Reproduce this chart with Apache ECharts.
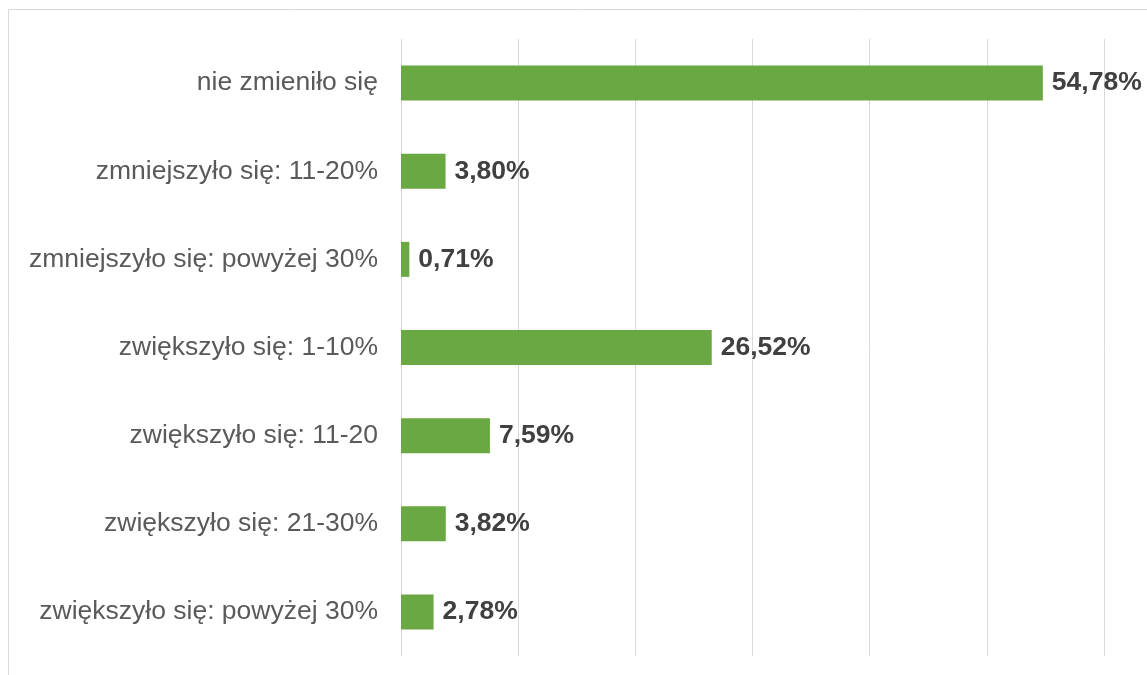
<!DOCTYPE html>
<html><head><meta charset="utf-8">
<script src="https://cdn.jsdelivr.net/npm/echarts@6/dist/echarts.min.js"></script>
<style>html,body{margin:0;padding:0;background:#fff}#c{width:1147px;height:675px}</style>
</head><body><div id="c"></div>
<script>
const categories = ["nie zmieniło się","zmniejszyło się: 11-20%","zmniejszyło się: powyżej 30%","zwiększyło się: 1-10%","zwiększyło się: 11-20","zwiększyło się: 21-30%","zwiększyło się: powyżej 30%"];
const values = [54.78, 3.80, 0.71, 26.52, 7.59, 3.82, 2.78];
const chart = echarts.init(document.getElementById('c'));
chart.setOption({
  backgroundColor:'#fff',
  animation:false,
  graphic:[{type:'rect',shape:{x:8.5,y:9.5,width:1200,height:700},style:{fill:'none',stroke:'#d9d9d9',lineWidth:1}}],
  grid:{left:401,right:43,top:39,bottom:19,containLabel:false},
  xAxis:{type:'value',min:0,max:60,interval:10,axisLabel:{show:false},axisLine:{show:false},axisTick:{show:false},
    splitLine:{show:true,lineStyle:{color:'#d9d9d9',width:1}}},
  yAxis:{type:'category',data:categories,inverse:true,axisLine:{show:false},axisTick:{show:false},
    axisLabel:{margin:23,color:'#5a5a5a',fontSize:26.5,fontFamily:'Liberation Sans, Arial, sans-serif'}},
  series:[{type:'bar',data:values,barWidth:35,itemStyle:{color:'#6aa843'},
    label:{show:true,position:'right',distance:9,color:'#404040',fontSize:26.5,fontWeight:'bold',fontFamily:'Liberation Sans, Arial, sans-serif',
      formatter:p=>p.value.toFixed(2).replace('.',',')+'%'}}]
});
</script></body></html>
